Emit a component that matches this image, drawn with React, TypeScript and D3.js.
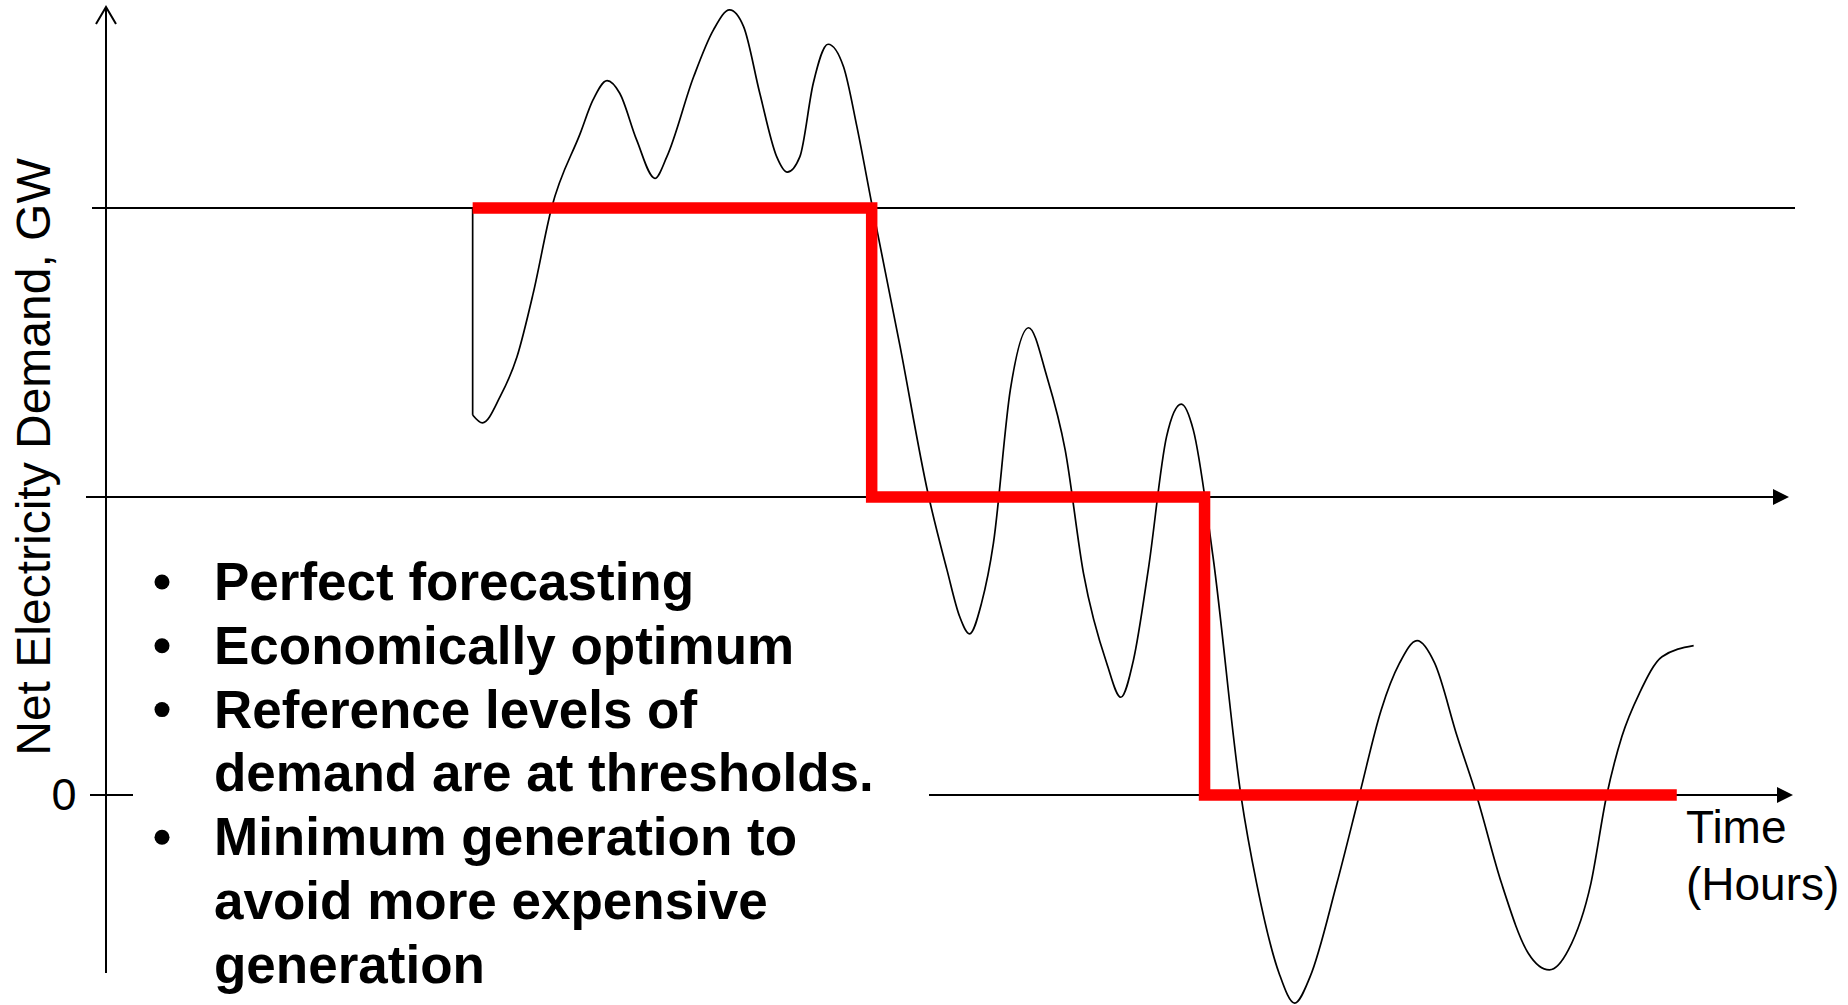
import React from "react";
import * as d3 from "d3";

// ---- data ----
// time axis in hours, demand in GW (schematic units)
const HOURS = [
  5.21, 5.35, 5.6, 5.84, 6.07, 6.33, 6.74, 6.92, 7.12, 7.3, 7.54, 7.8, 7.97, 8.35, 8.63, 8.86,
  9.06, 9.29, 9.53, 9.68, 9.86, 10.05, 10.26, 10.48, 10.67, 10.88, 11.28, 11.68, 11.95, 12.13,
  12.27, 12.44, 12.61, 12.85, 13.11, 13.37, 13.63, 13.89, 14.22, 14.42, 14.6, 14.81, 15.07,
  15.28, 15.45, 15.73, 16.13, 16.35, 16.67, 16.89, 17.11, 17.49, 17.81, 18.12, 18.38, 18.63,
  18.88, 19.2, 19.48, 19.83, 20.21, 20.51, 20.78, 21.1, 21.32, 21.54, 21.79, 22.11, 22.56,
];
const DEMAND = [
  12.95, 12.68, 13.57, 14.93, 17.09, 19.99, 22.55, 23.68, 24.34, 23.91, 22.32, 21.01, 21.75,
  24.47, 26.06, 26.75, 26.18, 23.91, 21.75, 21.22, 21.75, 24.25, 25.58, 24.81, 22.77, 20.16,
  15.33, 10.28, 7.67, 6.08, 5.49, 6.53, 8.58, 13.8, 15.92, 14.25, 11.75, 7.55, 4.49, 3.33, 4.6,
  7.67, 12.21, 13.32, 12.44, 8.12, -0.06, -3.01, -6.08, -7.09, -6.19, -3.01, 0, 2.9, 4.49, 5.26,
  4.49, 1.99, -0.06, -3.01, -5.39, -5.96, -5.28, -3.01, -0.06, 1.99, 3.47, 4.71, 5.09,
];
const CURVE_START_LEVEL = 20; // curve starts with a vertical drop from the upper threshold

// reference (threshold) levels and the optimum step schedule
const THRESHOLDS = [20, 10.15, 0];
const STEP_HOURS = [5.21, 10.88, 15.61, 22.32];
const STEP_LEVELS = [20, 10.15, 0, 0];

const ZERO_LABEL = "0";
const Y_TITLE = "Net Electricity Demand, GW";
const X_TITLE = ["Time", "(Hours)"];
const BULLETS = [
  { text: "Perfect forecasting", bullet: true },
  { text: "Economically optimum", bullet: true },
  { text: "Reference levels of", bullet: true },
  { text: "demand are at thresholds.", bullet: false },
  { text: "Minimum generation to", bullet: true },
  { text: "avoid more expensive", bullet: false },
  { text: "generation", bullet: false },
];

const W = 1848;
const H = 1005;
const FONT = "'Liberation Sans', Arial, Helvetica, sans-serif";

export default function App() {
  const x = d3.scaleLinear().domain([0, 24]).range([106, 1795]);
  const y = d3.scaleLinear().domain([0, 20]).range([795, 208]);

  const pts: [number, number][] = HOURS.map((h, i) => [h, DEMAND[i]]);
  const curveLine = d3
    .line<[number, number]>()
    .x((d) => x(d[0]))
    .y((d) => y(d[1]))
    .curve(d3.curveMonotoneX);
  const curvePath = curveLine(pts) || "";
  const dropPath =
    d3.line()([
      [x(HOURS[0]), y(CURVE_START_LEVEL)],
      [x(HOURS[0]), y(DEMAND[0])],
    ]) || "";

  const stepLine = d3
    .line<number>()
    .x((d, i) => x(STEP_HOURS[i]))
    .y((d) => y(d))
    .curve(d3.curveStepAfter);
  const stepPath = stepLine(STEP_LEVELS) || "";

  const axisX = x(0);
  const yUpper = y(THRESHOLDS[0]);
  const yMid = y(THRESHOLDS[1]);
  const yZero = y(THRESHOLDS[2]);

  const arrow = (tipX: number, yy: number) =>
    `M${tipX},${yy} L${tipX - 16},${yy - 8} L${tipX - 16},${yy + 8} Z`;

  const bulletBase = 600;
  const bulletStep = 63.8;

  return (
    <svg
      width={W}
      height={H}
      viewBox={`0 0 ${W} ${H}`}
      style={{ position: "absolute", left: 0, top: 0, display: "block", background: "#fff" }}
    >
      <rect x={0} y={0} width={W} height={H} fill="#fff" />

      {/* y axis with open arrow */}
      <line x1={axisX} y1={7} x2={axisX} y2={973} stroke="#000" strokeWidth={2} />
      <path
        d={`M${axisX - 10},${24} L${axisX},${7} L${axisX + 10},${24}`}
        fill="none"
        stroke="#000"
        strokeWidth={2}
      />

      {/* threshold lines */}
      <line x1={axisX - 14} y1={yUpper} x2={x(24)} y2={yUpper} stroke="#000" strokeWidth={2} />
      <line x1={axisX - 20} y1={yMid} x2={1775} y2={yMid} stroke="#000" strokeWidth={2} />
      <path d={arrow(1789, yMid)} fill="#000" />
      <line x1={axisX - 16} y1={yZero} x2={133} y2={yZero} stroke="#000" strokeWidth={2} />
      <line x1={929} y1={yZero} x2={1779} y2={yZero} stroke="#000" strokeWidth={2} />
      <path d={arrow(1793, yZero)} fill="#000" />

      {/* demand curve */}
      <path d={dropPath} fill="none" stroke="#000" strokeWidth={1.7} />
      <path d={curvePath} fill="none" stroke="#000" strokeWidth={1.7} />

      {/* optimum step schedule */}
      <path
        d={stepPath}
        fill="none"
        stroke="#ff0000"
        strokeWidth={11.5}
        strokeLinejoin="miter"
        strokeLinecap="butt"
      />

      {/* labels */}
      <text x={64} y={810} fontFamily={FONT} fontSize={45} textAnchor="middle" fill="#000">
        {ZERO_LABEL}
      </text>
      <text
        transform={`translate(50, 457) rotate(-90)`}
        fontFamily={FONT}
        fontSize={48}
        textAnchor="middle"
        fill="#000"
      >
        {Y_TITLE}
      </text>
      <text x={1686} y={843} fontFamily={FONT} fontSize={46} fill="#000">
        {X_TITLE[0]}
      </text>
      <text x={1686} y={900} fontFamily={FONT} fontSize={46} fill="#000">
        {X_TITLE[1]}
      </text>

      {/* bullet list */}
      {BULLETS.map((b, i) => (
        <g key={i}>
          {b.bullet && <circle cx={162} cy={bulletBase + i * bulletStep - 18} r={7.5} fill="#000" />}
          <text
            x={214}
            y={bulletBase + i * bulletStep}
            fontFamily={FONT}
            fontSize={53}
            fontWeight="bold"
            fill="#000"
          >
            {b.text}
          </text>
        </g>
      ))}
    </svg>
  );
}
